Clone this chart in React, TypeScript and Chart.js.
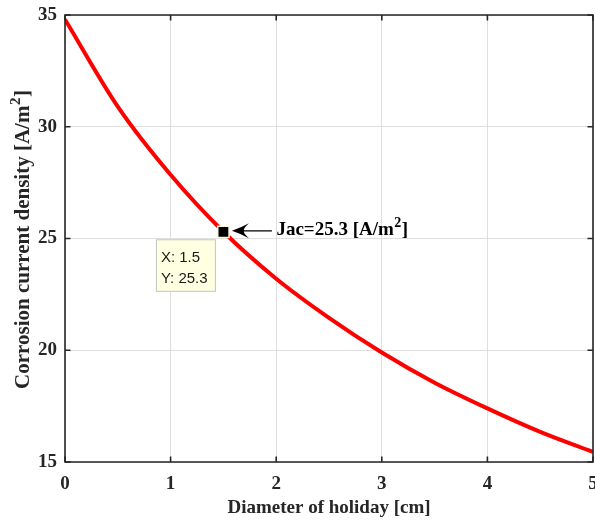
import React, { useEffect, useRef } from 'react';
import { Chart, registerables } from 'chart.js';

Chart.register(...registerables);

// ---- data ----
const diameters = [0, 0.5, 1, 1.5, 2, 2.5, 3, 3.5, 4, 4.5, 5];
const density = [34.8, 30.9, 27.85, 25.3, 23.2, 21.45, 19.9, 18.55, 17.4, 16.35, 15.45];
const xTickValues = [0, 1, 2, 3, 4, 5];
const yTickValues = [15, 20, 25, 30, 35];
const tipX = 1.5;
const tipY = 25.3;
const tipLines = ['X: 1.5', 'Y: 25.3'];
const annotationMain = 'Jac=25.3 [A/m';
const annotationSup = '2';
const annotationEnd = ']';
const xTitle = 'Diameter of holiday [cm]';
const yTitleMain = 'Corrosion current density [A/m';
const yTitleSup = '2';
const yTitleEnd = ']';

const SERIF = '"Liberation Serif", "Times New Roman", serif';
const SANS = '"Liberation Sans", Arial, sans-serif';
const AXIS_COLOR = '#262626';

function drawSupText(
  ctx: CanvasRenderingContext2D,
  main: string,
  sup: string,
  end: string,
  x: number,
  y: number,
  size: number,
  supSize: number,
  center: boolean
) {
  const mainFont = `bold ${size}px ${SERIF}`;
  const supFont = `bold ${supSize}px ${SERIF}`;
  ctx.font = mainFont;
  const w1 = ctx.measureText(main).width;
  const w3 = ctx.measureText(end).width;
  ctx.font = supFont;
  const w2 = ctx.measureText(sup).width;
  const total = w1 + w2 + w3;
  const sx = center ? x - total / 2 : x;
  ctx.textAlign = 'left';
  ctx.textBaseline = 'alphabetic';
  ctx.font = mainFont;
  ctx.fillText(main, sx, y);
  ctx.font = supFont;
  ctx.fillText(sup, sx + w1 + 0.5, y - size * 0.42);
  ctx.font = mainFont;
  ctx.fillText(end, sx + w1 + w2 + 1, y);
}

const decorPlugin = {
  id: 'decor',
  afterDatasetsDraw(chart: any) {
    const { ctx, chartArea, scales } = chart;
    const { left, right, top, bottom } = chartArea;
    const xs = scales.x;
    const ys = scales.y;
    ctx.save();

    // box
    ctx.strokeStyle = AXIS_COLOR;
    ctx.lineWidth = 1.6;
    ctx.beginPath();
    ctx.rect(left, top, right - left, bottom - top);
    ctx.stroke();

    // inward ticks
    const tl = 5.5;
    ctx.beginPath();
    xTickValues.forEach((v) => {
      const px = xs.getPixelForValue(v);
      ctx.moveTo(px, bottom);
      ctx.lineTo(px, bottom - tl);
      ctx.moveTo(px, top);
      ctx.lineTo(px, top + tl);
    });
    yTickValues.forEach((v) => {
      const py = ys.getPixelForValue(v);
      ctx.moveTo(left, py);
      ctx.lineTo(left + tl, py);
      ctx.moveTo(right, py);
      ctx.lineTo(right - tl, py);
    });
    ctx.stroke();

    // axis titles
    ctx.fillStyle = AXIS_COLOR;
    ctx.font = `bold 19px ${SERIF}`;
    ctx.textAlign = 'center';
    ctx.textBaseline = 'alphabetic';
    ctx.fillText(xTitle, (left + right) / 2, 513);

    ctx.save();
    ctx.translate(29, 240);
    ctx.rotate(-Math.PI / 2);
    drawSupText(ctx, yTitleMain, yTitleSup, yTitleEnd, 0, 0, 21, 15, true);
    ctx.restore();

    // marker position
    const mx = xs.getPixelForValue(tipX);
    const my = ys.getPixelForValue(tipY);

    // datatip box
    const bx = mx - 67.5;
    const by = my + 7.5;
    ctx.fillStyle = '#ffffe1';
    ctx.fillRect(bx, by, 60, 52.5);
    ctx.strokeStyle = '#c4c4c4';
    ctx.lineWidth = 1;
    ctx.strokeRect(bx + 0.5, by + 0.5, 59, 51.5);
    ctx.fillStyle = '#1a1a1a';
    ctx.font = `15px ${SANS}`;
    ctx.textAlign = 'left';
    ctx.textBaseline = 'alphabetic';
    ctx.fillText(tipLines[0], bx + 5, by + 22.5);
    ctx.fillText(tipLines[1], bx + 5, by + 44);

    // arrow
    const tx = mx + 8.5;
    const ty = my - 1;
    ctx.strokeStyle = '#000';
    ctx.lineWidth = 1.2;
    ctx.beginPath();
    ctx.moveTo(tx + 8, ty);
    ctx.lineTo(mx + 48.5, ty);
    ctx.stroke();
    ctx.fillStyle = '#000';
    ctx.beginPath();
    ctx.moveTo(tx, ty);
    ctx.quadraticCurveTo(tx + 9, ty - 3, tx + 17, ty - 7.5);
    ctx.quadraticCurveTo(tx + 11, ty - 2, tx + 12, ty);
    ctx.quadraticCurveTo(tx + 11, ty + 2, tx + 17, ty + 7.5);
    ctx.quadraticCurveTo(tx + 9, ty + 3, tx, ty);
    ctx.fill();

    // annotation text
    ctx.fillStyle = '#000';
    drawSupText(ctx, annotationMain, annotationSup, annotationEnd, mx + 53, my + 3, 19, 14, false);

    ctx.restore();
  },
};

export default function App() {
  const canvasRef = useRef<HTMLCanvasElement | null>(null);

  useEffect(() => {
    document.body.style.margin = '0';
    const canvas = canvasRef.current;
    if (!canvas) return;
    const chart = new Chart(canvas, {
      type: 'line',
      data: {
        datasets: [
          {
            label: 'tip',
            data: [{ x: tipX, y: tipY }],
            showLine: false,
            pointStyle: 'rect',
            pointRadius: 8,
            pointBackgroundColor: '#000',
            pointBorderColor: '#fffbd0',
            pointBorderWidth: 1.5,
          },
          {
            label: 'density',
            data: diameters.map((d, i) => ({ x: d, y: density[i] })),
            borderColor: '#ff0000',
            borderWidth: 4,
            pointRadius: 0,
            cubicInterpolationMode: 'monotone',
            fill: false,
          },
        ],
      },
      options: {
        animation: false,
        responsive: false,
        devicePixelRatio: 1,
        layout: { autoPadding: false, padding: { top: 15, right: 2, left: 0, bottom: 0 } },
        plugins: {
          legend: { display: false },
          tooltip: { enabled: false },
          title: { display: false },
        },
        scales: {
          x: {
            type: 'linear',
            min: 0,
            max: 5,
            afterFit: (s: any) => {
              s.height = 58;
              s.paddingLeft = 0;
              s.paddingRight = 0;
            },
            afterBuildTicks: (s: any) => {
              s.ticks = xTickValues.map((v) => ({ value: v }));
            },
            ticks: {
              color: AXIS_COLOR,
              font: { family: SERIF, size: 19, weight: 'bold' },
              padding: 11,
              maxRotation: 0,
            },
            grid: {
              color: '#dfdfdf',
              lineWidth: 1,
              drawTicks: false,
            },
            border: { display: false },
          },
          y: {
            type: 'linear',
            min: 15,
            max: 35,
            afterFit: (s: any) => {
              s.width = 65;
              s.paddingTop = 0;
              s.paddingBottom = 0;
            },
            afterBuildTicks: (s: any) => {
              s.ticks = yTickValues.map((v) => ({ value: v }));
            },
            ticks: {
              color: AXIS_COLOR,
              font: { family: SERIF, size: 19, weight: 'bold' },
              padding: 8,
            },
            grid: {
              color: '#dfdfdf',
              lineWidth: 1,
              drawTicks: false,
            },
            border: { display: false },
          },
        },
      },
      plugins: [decorPlugin],
    });
    return () => chart.destroy();
  }, []);

  return (
    <div style={{ position: 'absolute', left: 0, top: 0, width: 595, height: 520, background: '#fff' }}>
      <canvas ref={canvasRef} width={595} height={520} style={{ display: 'block' }} />
    </div>
  );
}
